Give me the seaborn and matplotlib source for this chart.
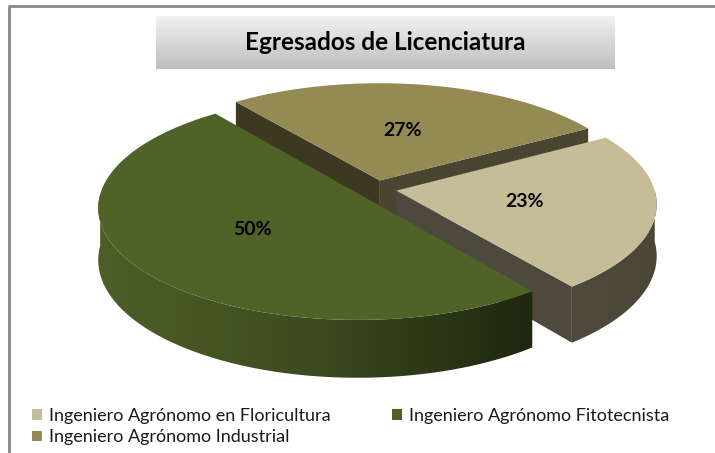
import numpy as np
import matplotlib
matplotlib.use("Agg")
import matplotlib.pyplot as plt
from matplotlib.patches import Polygon, Patch
from matplotlib.colors import LinearSegmentedColormap
import seaborn as sns

# data
categories = ["Ingeniero Agrónomo en Floricultura",
              "Ingeniero Agrónomo Fitotecnista",
              "Ingeniero Agrónomo Industrial"]
shares = [23, 50, 27]
title = "Egresados de Licenciatura"

# styles
top_colors = ["#C4BD97", "#4F6228", "#948A54"]
# outer wall gradient, screen left -> right
side_stops = [["#4E4B3D", "#4A4739"], ["#4C5F27", "#3C4B1F", "#1E270F"], ["#4A4530", "#4A4530"]]
radial_colors = [["#4D4A3D", "#4D4A3D"], ["#2C3816", "#2C3816"], ["#3D3921", "#4A4530"]]

# fake 3d geometry, pixel space
START = 59.5
CX, CY = 376, 189
RX, RY = 258, 110
PERSP = 0.113
DEPTH = 51
EXPLODE = 0.08
LABEL_R = 0.5


def project(u, v, down=0.0):
    d = 1 + PERSP * v
    return CX + RX * u / d, CY - RY * v / d + down * DEPTH / d


sns.set_theme(style="white")
plt.rcParams["font.family"] = ["Lato", "DejaVu Sans"]

fig = plt.figure(figsize=(7.15, 4.53), dpi=100)
ax = fig.add_axes([0, 0, 1, 1])
ax.set_xlim(0, 715)
ax.set_ylim(453, 0)
ax.axis("off")

# frame
ax.plot([9, 9, 715], [453, 6, 6], color="#878787", lw=2, solid_capstyle="butt")

# title box with gradient
grad = np.linspace(0, 1, 100).reshape(-1, 1)
ax.imshow(grad, cmap=LinearSegmentedColormap.from_list("g", ["#F2F2F2", "#BEBEBE"]),
          extent=[156, 615, 69, 16], aspect="auto", zorder=1)
ax.text(385, 43, title, ha="center", va="center", fontsize=17.5, fontweight="bold",
        color="black", zorder=2)

fracs = np.array(shares) / sum(shares)
starts = START + 360 * np.concatenate([[0], np.cumsum(fracs)[:-1]])
ends = starts + 360 * fracs
mids = (starts + ends) / 2

order = np.argsort(-np.cos(np.radians(mids)))  # back to front
z = 3
for i in order:
    s, e, m = starts[i], ends[i], mids[i]
    ou = EXPLODE * np.sin(np.radians(m))
    ov = EXPLODE * np.cos(np.radians(m))

    def pt(theta, r=1.0, down=0.0):
        t = np.radians(theta)
        return project(ou + r * np.sin(t), ov + r * np.cos(t), down)

    # radial walls
    for k, (ang, vis) in enumerate([(s, np.sin(np.radians(s)) < 0), (e, np.sin(np.radians(e)) > 0)]):
        if vis:
            quad = [pt(ang, 0), pt(ang), pt(ang, 1, 1), pt(ang, 0, 1)]
            ax.add_patch(Polygon(quad, closed=True, fc=radial_colors[i][k], ec="none", zorder=z))
    # outer wall, front half only, shaded left to right
    lo, hi = max(s, 90), min(e, 270)
    if hi > lo:
        th = np.linspace(lo, hi, 100)
        wall = [pt(a) for a in th] + [pt(a, 1, 1) for a in th[::-1]]
        poly = Polygon(wall, closed=True, fc="none", ec="none")
        ax.add_patch(poly)
        xs = [p[0] for p in wall]
        ys = [p[1] for p in wall]
        img = ax.imshow(np.linspace(0, 1, 200).reshape(1, -1),
                        cmap=LinearSegmentedColormap.from_list(f"w{i}", side_stops[i]),
                        extent=[min(xs), max(xs), max(ys), min(ys)], aspect="auto", zorder=z)
        img.set_clip_path(poly)
    # top face
    th = np.linspace(s, e, 120)
    top = [pt(0, 0)] + [pt(a) for a in th]
    ax.add_patch(Polygon(top, closed=True, fc=top_colors[i], ec="none", zorder=z + 1))
    lx, ly = pt(m, LABEL_R)
    ax.text(lx, ly, f"{shares[i]}%", ha="center", va="center", fontsize=14,
            fontweight="bold", color="black", zorder=20)
    z += 2

ax.set_xlim(0, 715)
ax.set_ylim(453, 0)

# legend, row-wise like excel
handles = [Patch(fc=c, ec="none") for c in top_colors]
idx = [0, 2, 1]
leg = ax.legend([handles[j] for j in idx], [categories[j] for j in idx], ncol=2,
                loc="upper left", bbox_to_anchor=(32 / 715, 1 - 408 / 453),
                bbox_transform=fig.transFigure, frameon=False, fontsize=13,
                handlelength=0.55, handleheight=0.55, handletextpad=0.4,
                columnspacing=3.4, labelspacing=0.3, borderpad=0, borderaxespad=0)
for t in leg.get_texts():
    t.set_color("#1A1A1A")

fig.savefig("out.png", dpi=100)
